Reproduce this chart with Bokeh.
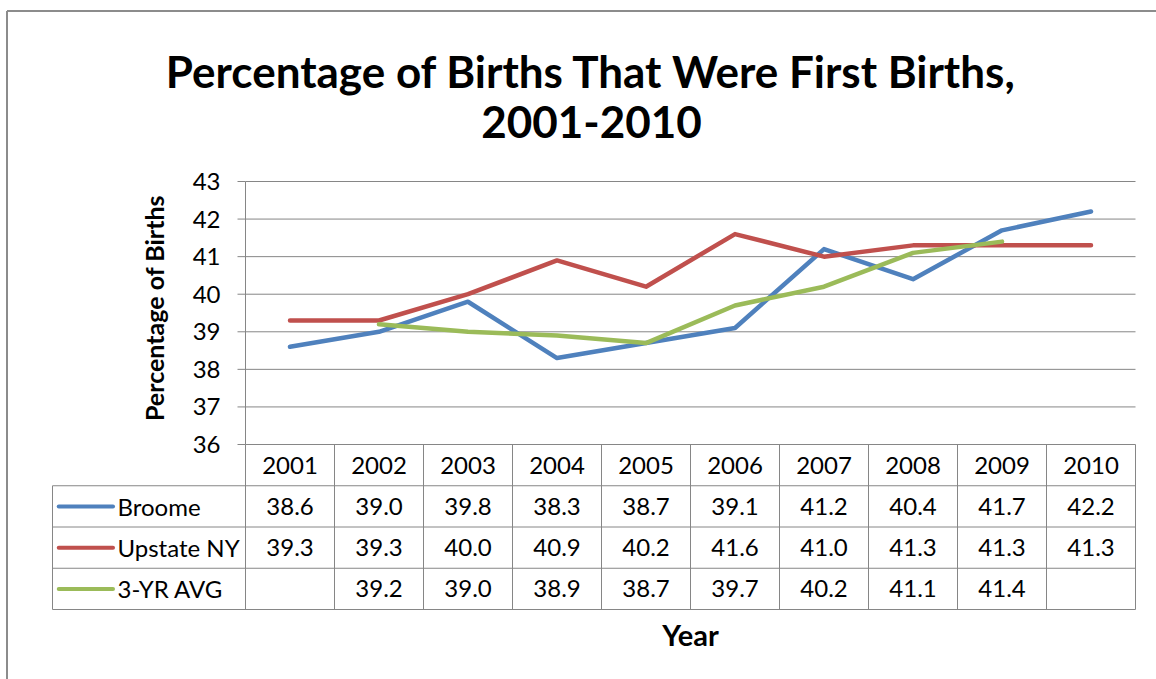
import math
from bokeh.plotting import figure
from bokeh.core.properties import value
from bokeh.embed import file_html
from bokeh.resources import INLINE

# ---------------- data ----------------
years = ["2001", "2002", "2003", "2004", "2005", "2006", "2007", "2008", "2009", "2010"]
broome = [38.6, 39.0, 39.8, 38.3, 38.7, 39.1, 41.2, 40.4, 41.7, 42.2]
upstate = [39.3, 39.3, 40.0, 40.9, 40.2, 41.6, 41.0, 41.3, 41.3, 41.3]
avg3 = [None, 39.2, 39.0, 38.9, 38.7, 39.7, 40.2, 41.1, 41.4, None]
series_names = ["Broome", "Upstate NY", "3-YR AVG"]
series_colors = ["#4F81BD", "#C0504D", "#9BBB59"]
y_ticks = [36, 37, 38, 39, 40, 41, 42, 43]
title_lines = ["Percentage of Births That Were First Births,", "2001-2010"]
y_title = "Percentage of Births"
x_title = "Year"

series = [broome, upstate, avg3]

# ---------------- layout (pixels on the page) ----------------
FONT = "Lato"
W, H = 1156, 679
PLOT_L, PLOT_R = 245, 1135          # plot area left / right
Y_TOP_PX, Y_BOT_PX = 181, 444       # pixel rows of top / bottom tick
ROW_PX = 41.25                      # data-table row height
LBL_L_PX = 52                       # data-table left edge
BORDER_X, BORDER_Y = 6.5, 10.5      # chart-area border
TITLE_CX, TITLE_Y1, TITLE_Y2 = 591, 70, 121

n = len(years)
ymin, ymax = y_ticks[0], y_ticks[-1]
PPX = (PLOT_R - PLOT_L) / n
PPU = (Y_BOT_PX - Y_TOP_PX) / (ymax - ymin)
x0, x1 = -0.5, n - 0.5


def px_to_x(px):
    return x0 + (px - PLOT_L) / PPX


def px_to_y(py):
    return ymax - (py - Y_TOP_PX) / PPU


x_start, x_end = px_to_x(0), px_to_x(W)
y_start, y_end = px_to_y(H), px_to_y(0)
ROW_H = ROW_PX / PPU
LBL_L = px_to_x(LBL_L_PX)
tbl_bottom = ymin - 4 * ROW_H

p = figure(width=W, height=H, output_backend="svg", toolbar_location=None,
           x_range=(x_start, x_end), y_range=(y_start, y_end),
           x_axis_location=None, y_axis_location=None, title=None,
           min_border=0, min_border_left=0, min_border_right=0,
           min_border_top=0, min_border_bottom=0)
p.outline_line_color = None
p.grid.visible = False
p.background_fill_color = "white"
p.border_fill_color = "white"

GRID = "#868686"

# chart-area border (left and top edges visible)
bx, by = px_to_x(BORDER_X), px_to_y(BORDER_Y)
p.segment(x0=[bx, bx], x1=[bx, x_end], y0=[y_start, by], y1=[by, by],
          line_color="#8c8c8c", line_width=2)

# title (two lines)
tx = px_to_x(TITLE_CX)
p.text(x=[tx, tx], y=[px_to_y(TITLE_Y1), px_to_y(TITLE_Y2)], text=title_lines,
       text_align="center", text_baseline="middle", text_font=value(FONT),
       text_font_size="44px", text_font_style="bold", text_color="black")

# horizontal gridlines
p.segment(x0=[x0] * len(y_ticks), x1=[x1] * len(y_ticks), y0=y_ticks, y1=y_ticks,
          line_color=GRID, line_width=1)
# y axis line and tick marks
p.segment(x0=[x0], x1=[x0], y0=[ymin], y1=[ymax], line_color=GRID, line_width=1)
p.ray(x=[x0] * len(y_ticks), y=y_ticks, length=8, length_units="screen", angle=math.pi,
      line_color=GRID, line_width=1)
# y tick labels
p.text(x=[x0] * len(y_ticks), y=y_ticks, text=[str(t) for t in y_ticks], x_offset=-25,
       text_align="right", text_baseline="middle", text_font=value(FONT),
       text_font_size="24px", text_color="black")
# y axis title
p.text(x=[x0], y=[(ymin + ymax) / 2], text=[y_title], x_offset=-92, y_offset=-5,
       angle=math.pi / 2, text_align="center", text_baseline="middle",
       text_font=value(FONT), text_font_size="25px", text_font_style="bold", text_color="black")

# data table grid
row_lines = [ymin - ROW_H * k for k in range(1, 5)]
p.segment(x0=[LBL_L] * 4, x1=[x1] * 4, y0=row_lines, y1=row_lines, line_color=GRID, line_width=1)
col_lines = [x0 + k for k in range(n + 1)]
p.segment(x0=col_lines, x1=col_lines, y0=[tbl_bottom] * len(col_lines), y1=[ymin] * len(col_lines),
          line_color=GRID, line_width=1)
p.segment(x0=[LBL_L], x1=[LBL_L], y0=[tbl_bottom], y1=[ymin - ROW_H], line_color=GRID, line_width=1)

idx = list(range(n))
# header years
p.text(x=idx, y=[ymin - ROW_H / 2] * n, text=years, text_align="center", text_baseline="middle",
       text_font=value(FONT), text_font_size="24px", text_color="black")

# series lines + table rows
for k, (name, vals, col) in enumerate(zip(series_names, series, series_colors)):
    yv = [float("nan") if v is None else v for v in vals]
    p.line(x=idx, y=yv, line_color=col, line_width=4.5, line_cap="round", line_join="round")
    yc = ymin - ROW_H * (k + 1.5)
    labels = ["" if v is None else f"{v:.1f}" for v in vals]
    p.text(x=idx, y=[yc] * n, text=labels, text_align="center", text_baseline="middle",
           text_font=value(FONT), text_font_size="24px", text_color="black")
    p.segment(x0=[LBL_L + 0.07], x1=[LBL_L + 0.68], y0=[yc], y1=[yc], line_color=col,
              line_width=4, line_cap="round")
    p.text(x=[LBL_L + 0.73], y=[yc], text=[name], text_align="left", text_baseline="middle",
           text_font=value(FONT), text_font_size="24px", text_color="black")

# x axis title
p.text(x=[(x0 + x1) / 2], y=[tbl_bottom - 0.66], text=[x_title], text_align="center",
       text_baseline="middle", text_font=value(FONT), text_font_size="29px",
       text_font_style="bold", text_color="black")

open("out.html", "w").write(file_html(p, INLINE))
